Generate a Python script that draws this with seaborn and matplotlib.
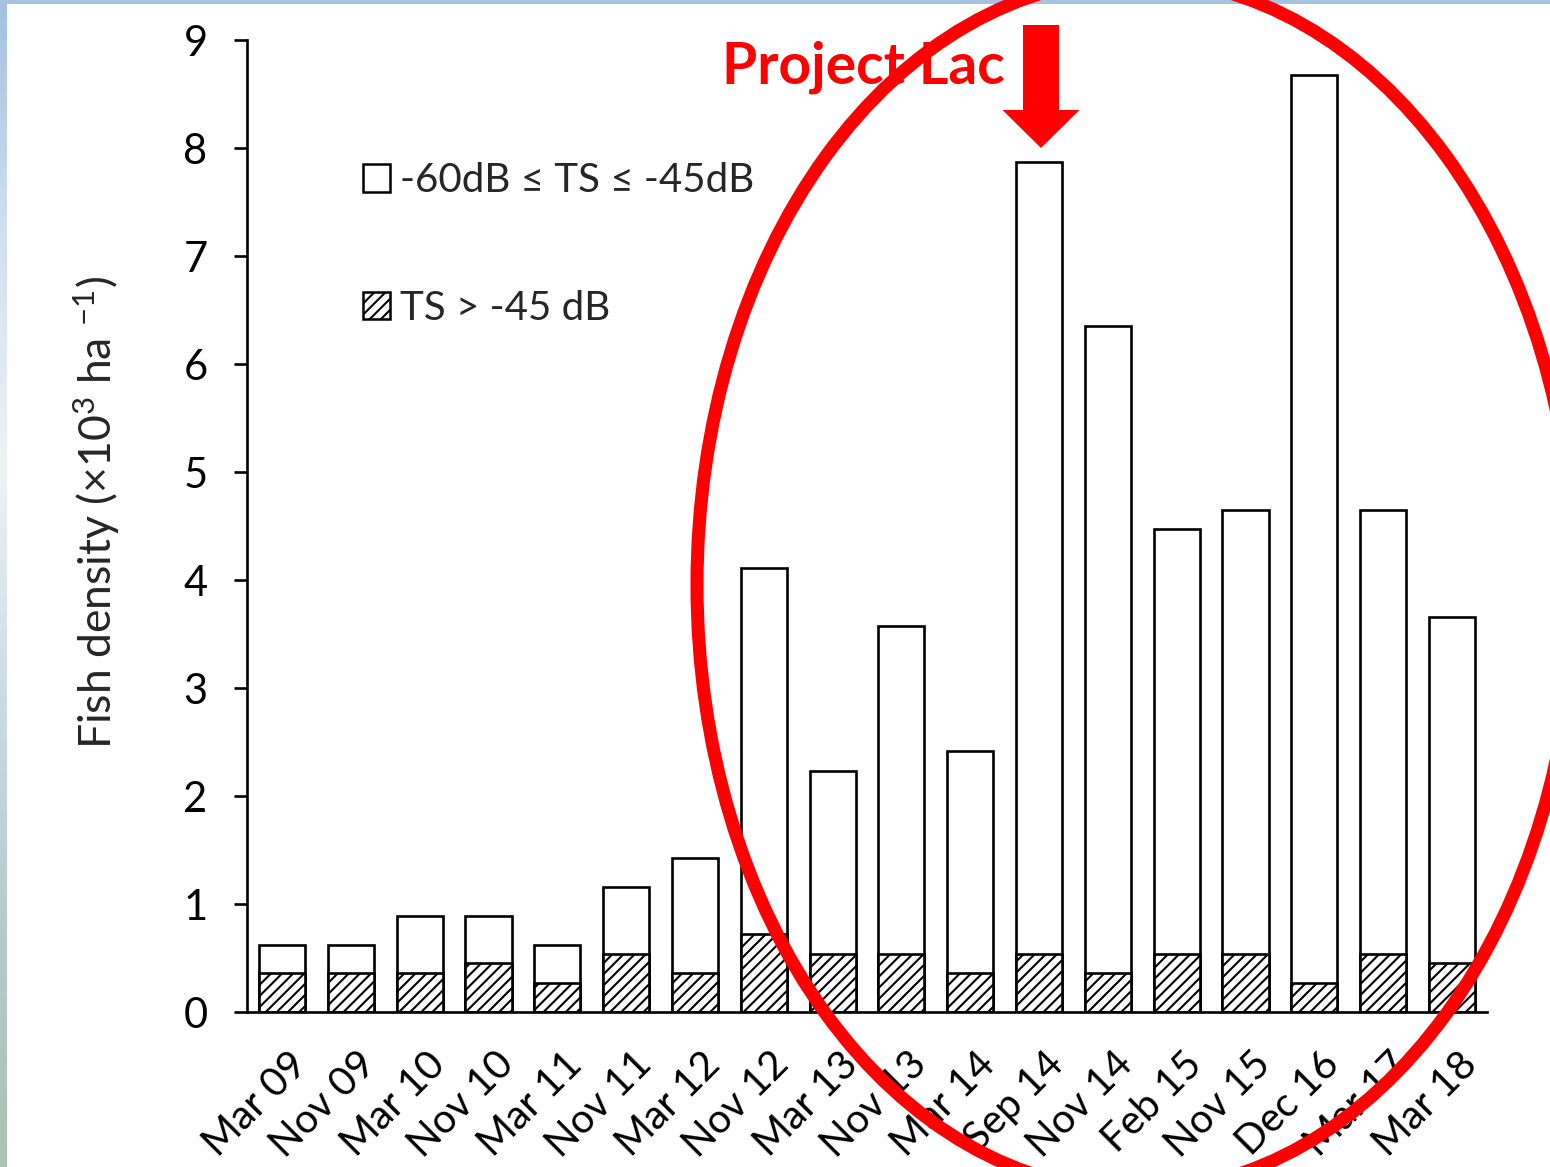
import numpy as np
import pandas as pd
import seaborn as sns
import matplotlib.pyplot as plt
from matplotlib.patches import Ellipse, FancyArrow, Patch, Rectangle
from matplotlib.colors import LinearSegmentedColormap
from matplotlib.transforms import offset_copy

# Survey dates and fish densities (x10^3 per ha)
surveys = ['Mar 09', 'Nov 09', 'Mar 10', 'Nov 10', 'Mar 11', 'Nov 11', 'Mar 12', 'Nov 12',
           'Mar 13', 'Nov 13', 'Mar 14', 'Sep 14', 'Nov 14', 'Feb 15', 'Nov 15', 'Dec 16',
           'Mar 17', 'Mar 18']
total_density = [0.62, 0.62, 0.89, 0.89, 0.62, 1.16, 1.43, 4.11, 2.23, 3.57, 2.42, 7.87,
                 6.35, 4.47, 4.65, 8.68, 4.65, 3.66]
large_fish = [0.36, 0.36, 0.36, 0.45, 0.27, 0.54, 0.36, 0.72, 0.54, 0.54, 0.36, 0.54,
              0.36, 0.54, 0.54, 0.27, 0.54, 0.45]
legend_labels = ['-60dB ≤ TS ≤ -45dB', 'TS > -45 dB']

df = pd.DataFrame({'survey': surveys, 'total': total_density, 'large': large_fish})

sns.set_theme(style='white')
plt.rcParams['font.family'] = ['Lato', 'DejaVu Sans']
plt.rcParams['mathtext.fontset'] = 'custom'
plt.rcParams['mathtext.rm'] = 'Lato'
plt.rcParams['mathtext.it'] = 'Lato'
plt.rcParams['hatch.linewidth'] = 1.5
plt.rcParams['hatch.color'] = 'black'

W, H = 1550, 1167
fig = plt.figure(figsize=(W / 100, H / 100), dpi=100)
fig.patch.set_facecolor('white')

# slide background: thin blue strip on top, gradient strip on the left
bg = fig.add_axes([0, 0, 1, 1], zorder=0)
bg.set_xlim(0, W)
bg.set_ylim(H, 0)
bg.axis('off')
strip_cmap = LinearSegmentedColormap.from_list(
    'strip', ['#a5c1e1', '#cfe0f2', '#eef2f5', '#c9dce6', '#b3cbcc', '#a9c4b2'])
bg.imshow(np.linspace(0, 1, 200).reshape(-1, 1), cmap=strip_cmap, aspect='auto',
          extent=(0, 7, H, 0))
bg.add_patch(Rectangle((0, 0), W, 4, color='#a7c3e0', lw=0))

# main chart
ax = fig.add_axes([247 / W, 1 - 1012 / H, 1240 / W, 972 / H], zorder=1)
ax.patch.set_visible(False)

sns.barplot(data=df, x='survey', y='total', color='white', saturation=1,
            edgecolor='black', linewidth=1.9, width=0.67, ax=ax)
sns.barplot(data=df, x='survey', y='large', color='white', saturation=1,
            edgecolor='black', linewidth=1.9, width=0.67, hatch='///', ax=ax)

ax.set_xlim(-0.51, len(surveys) - 0.49)
ax.set_ylim(0, 9)
ax.set_yticks(range(0, 10))
ax.set_xlabel('')
ax.set_ylabel(r'Fish density (×10$^{3}$ ha $^{-1}$)', fontsize=32, va='center')
ax.yaxis.set_label_coords(-0.121, 0.514)

for side in ['top', 'right']:
    ax.spines[side].set_visible(False)
for side in ['left', 'bottom']:
    ax.spines[side].set_linewidth(1.9)
    ax.spines[side].set_color('black')

ax.tick_params(axis='y', left=True, length=9.4, width=1.9, pad=19, labelsize=30,
               colors='black', direction='out')
ax.tick_params(axis='x', bottom=False, length=0, pad=24, labelsize=29, colors='black')
for lbl in ax.get_xticklabels():
    lbl.set_rotation(45)
    lbl.set_ha('right')
    lbl.set_va('top')
    lbl.set_rotation_mode('anchor')
    lbl.set_transform(offset_copy(lbl.get_transform(), fig=fig, x=6, y=0, units='dots'))

handles = [Patch(facecolor='white', edgecolor='black', linewidth=1.8),
           Patch(facecolor='white', edgecolor='black', linewidth=1.8, hatch='///')]
ax.legend(handles, legend_labels, loc='upper left',
          bbox_to_anchor=(363 / W, 1 - 162 / H), bbox_transform=fig.transFigure,
          frameon=False, fontsize=29, handlelength=0.68, handleheight=0.68,
          handletextpad=0.25, labelspacing=2.25, borderpad=0, borderaxespad=0)

# annotation layer (pixel coordinates)
ov = fig.add_axes([0, 0, 1, 1], zorder=2)
ov.set_xlim(0, W)
ov.set_ylim(H, 0)
ov.axis('off')
ov.patch.set_visible(False)

ov.add_patch(Ellipse((1136, 585), 878, 1212, fill=False, edgecolor='#ff0000', lw=9.4))
ov.add_patch(FancyArrow(1041, 25, 0, 123, width=36, head_width=77, head_length=38,
                        length_includes_head=True, color='#ff0000', lw=0))
ov.text(722, 83, 'Project Lac', color='#ff0000', fontsize=41, fontweight='bold',
        ha='left', va='baseline')

fig.savefig('out.png', dpi=100)
